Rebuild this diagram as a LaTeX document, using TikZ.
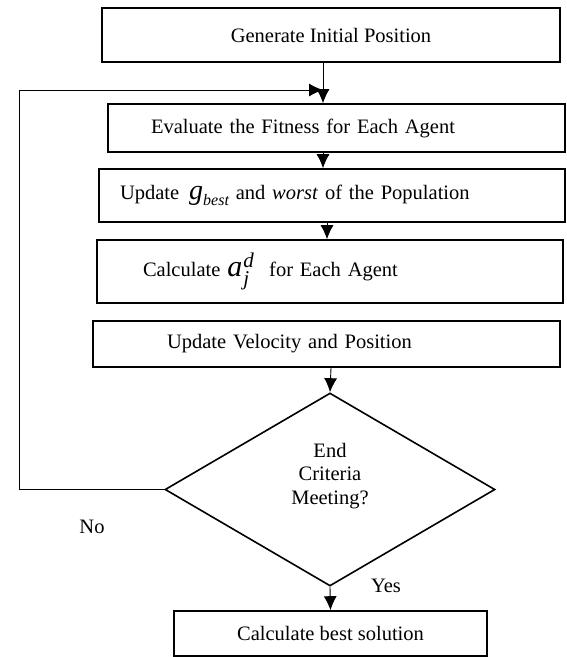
\documentclass[tikz,border=0pt]{standalone}
\usepackage{amsmath}
\usepackage{fontspec}
\setmainfont{Liberation Serif}
\usepackage{tikz}
\usetikzlibrary{shapes.geometric, arrows.meta}
\tikzstyle{block} = [rectangle, draw=black, line width=1.6pt, inner ysep=0pt, align=left]
\tikzstyle{decision} = [diamond, draw=black, line width=1.6pt, aspect=1.71, minimum width=330pt, minimum height=193pt, inner sep=0pt, align=center]
\tikzstyle{arrow} = [line width=0.9pt, -{Latex[length=14pt,width=13pt]}]
\tikzstyle{tag} = [inner sep=0pt]

\newcommand{\gbest}{{\fontsize{28}{28}\selectfont\itshape g}\raisebox{-6pt}{\fontsize{16}{16}\selectfont\itshape best}}
\newcommand{\ajd}{{\fontsize{30}{30}\selectfont$\textit{a}_{\kern1pt\textit{j}}^{\kern1pt\textit{d}}$}}

\begin{document}
\begin{tikzpicture}[x=1pt, y=-1pt, font=\fontsize{20.5}{23.5}\selectfont]
\useasboundingbox (0,0) rectangle (566,657);

% Nodes
\node (start) [block, minimum width=458pt, minimum height=54pt, align=center] at (331,35) {Generate Initial Position};
\node (eval) [block, text width=371pt, inner xsep=43pt, minimum height=48pt] at (336.5,128) {Evaluate the Fitness for Each Agent};
\node (update) [block, text width=424pt, inner xsep=21pt, minimum height=53pt] at (332,195.5) {Update\hspace{10pt}\gbest\ and \textit{worst} of the Population};
\node (calc) [block, text width=374pt, inner xsep=46pt, minimum height=63pt] at (330,271.5) {Calculate\hspace{7pt}\ajd\hspace{8pt} for Each Agent};
\node (velocity) [block, text width=319pt, inner xsep=74pt, minimum height=46pt] at (326.5,344) {Update Velocity and Position};
\node (check) [decision] at (330,489.5) {End\\Criteria\\Meeting?\\[8pt]};
\node (best) [block, minimum width=313pt, minimum height=45pt, align=center] at (330.5,633.5) {Calculate best solution};
\node (no) [tag] at (92,527) {No};
\node (yes) [tag] at (386,586) {Yes};

\coordinate (corner) at (19,90);
\coordinate (loop) at (323,90);

% Arrows
\draw [arrow] ([xshift=-8pt]start.south) -- ([xshift=-13.5pt]eval.north);
\draw [arrow] ([xshift=-13.5pt]eval.south) -- ([xshift=-9pt]update.north);
\draw [arrow] ([xshift=-5pt]update.south) -- ([xshift=-3pt]calc.north);
\draw [arrow] ([xshift=4.5pt]velocity.south) -- (check.north);
\draw [arrow] (check.south) -- (best.north);

% Loop back when not finished
\draw [arrow] (check.west) -| (corner) -- (loop);

\end{tikzpicture}
\end{document}
